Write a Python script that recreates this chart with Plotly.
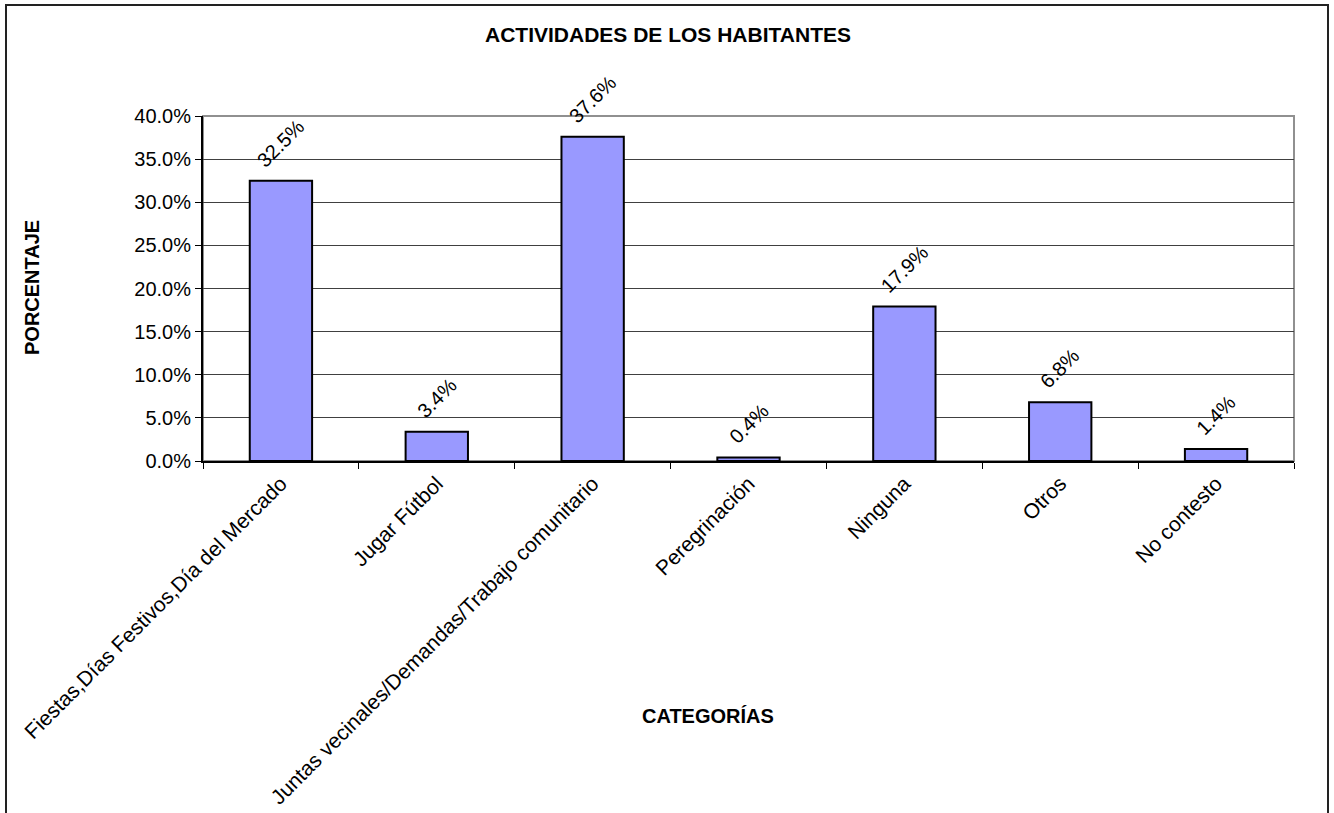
import plotly.graph_objects as go

# Data
categories = [
    "Fiestas,Días Festivos,Día del Mercado",
    "Jugar Fútbol",
    "Juntas vecinales/Demandas/Trabajo comunitario",
    "Peregrinación",
    "Ninguna",
    "Otros",
    "No contesto",
]
percentages = [32.5, 3.4, 37.6, 0.4, 17.9, 6.8, 1.4]
y_ticks = [0, 5, 10, 15, 20, 25, 30, 35, 40]
y_tick_labels = [f"{v:.1f}%" for v in y_ticks]

FONT = "Arial, Liberation Sans, sans-serif"
BAR_COLOR = "#9999FF"

# Pixel layout of the original chart (body margin removed below)
W, H = 1334, 813
L, T = 203, 116
R = W - 1294
B = H - 461
PW, PH = W - L - R, H - T - B


def px_x(px):
    return (px - L) / PW


def px_y(py):
    return (H - B - py) / PH


fig = go.Figure()

fig.add_trace(
    go.Bar(
        x=categories,
        y=percentages,
        width=0.4,
        marker=dict(color=BAR_COLOR, line=dict(color="black", width=2)),
        hoverinfo="x+y",
        showlegend=False,
    )
)

# Rotated value labels above each bar
for cat, val in zip(categories, percentages):
    fig.add_annotation(
        x=cat,
        y=val,
        text=f"{val:.1f}%",
        textangle=-45,
        showarrow=False,
        xanchor="center",
        yanchor="bottom",
        yshift=7,
        font=dict(family=FONT, size=20, color="black"),
    )

# Axis titles
fig.add_annotation(
    xref="paper", yref="paper", x=px_x(708), y=px_y(716),
    xanchor="center", yanchor="middle",
    text="<b>CATEGORÍAS</b>", showarrow=False,
    font=dict(family=FONT, size=20, color="black"),
)
fig.add_annotation(
    xref="paper", yref="paper", x=px_x(32), y=px_y(288),
    xanchor="center", yanchor="middle",
    text="<b>PORCENTAJE</b>", textangle=-90, showarrow=False,
    font=dict(family=FONT, size=20, color="black"),
)

# Plot-area border (grey) and outer chart frame
fig.add_shape(
    type="rect", xref="paper", yref="paper", x0=0, x1=1, y0=0, y1=1,
    line=dict(color="#909090", width=2), layer="below",
)
fig.add_shape(
    type="rect", xref="paper", yref="paper",
    x0=px_x(6), x1=px_x(1328), y0=px_y(840), y1=px_y(5),
    line=dict(color="#222222", width=2), layer="below",
)

fig.update_layout(
    width=W,
    height=H,
    margin=dict(l=L, r=R, t=T, b=B, autoexpand=False),
    paper_bgcolor="white",
    plot_bgcolor="white",
    title=dict(
        text="<b>ACTIVIDADES DE LOS HABITANTES</b>",
        x=668 / W, xanchor="center", xref="container",
        y=1 - 35 / H, yanchor="middle",
        font=dict(family=FONT, size=21, color="black"),
    ),
    font=dict(family=FONT, size=20, color="black"),
)

fig.update_xaxes(
    type="category",
    tickangle=-45,
    tickson="boundaries",
    ticks="outside",
    ticklen=6,
    tickcolor="black",
    showline=True,
    linecolor="black",
    linewidth=2,
    showgrid=False,
    tickfont=dict(family=FONT, size=21, color="black"),
)
fig.update_yaxes(
    range=[0, 40],
    tickvals=y_ticks,
    ticktext=y_tick_labels,
    ticks="outside",
    ticklen=6,
    tickcolor="black",
    showline=True,
    linecolor="black",
    linewidth=2,
    showgrid=True,
    gridcolor="#404040",
    gridwidth=1,
    zeroline=False,
    tickfont=dict(family=FONT, size=20, color="black"),
)

fig.write_html(
    "out.html",
    config={"displayModeBar": False},
    post_script="document.body.style.margin='0';",
)
